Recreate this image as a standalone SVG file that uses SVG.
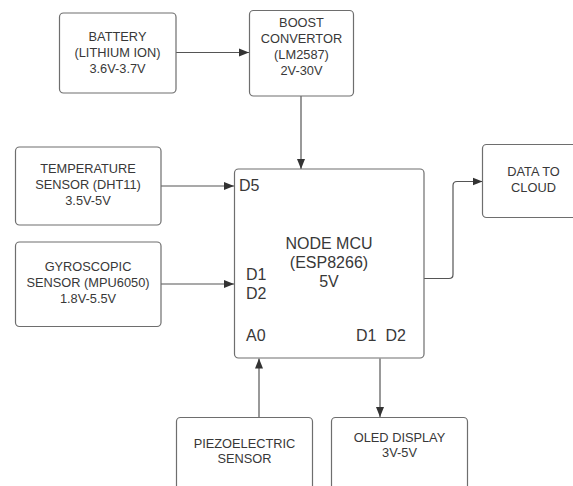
<svg xmlns="http://www.w3.org/2000/svg" width="573" height="486" viewBox="0 0 573 486">
<defs>
<style>
.box{fill:#ffffff;stroke:#6e6e6e;stroke-width:1.2}
.t{font-family:"Liberation Sans",Arial,sans-serif;font-size:12.8px;fill:#383838;text-anchor:middle}
.p{font-family:"Liberation Sans",Arial,sans-serif;font-size:16px;fill:#383838}
.c{fill:none;stroke:#555555;stroke-width:1.2}
</style>
<marker id="ah" viewBox="0 0 10 10" refX="10" refY="5" markerWidth="10" markerHeight="10" markerUnits="userSpaceOnUse" orient="auto">
<path d="M0,1 L10,5 L0,9 Z" fill="#333333"/>
</marker>
</defs>
<rect width="573" height="486" fill="#ffffff"/>
<g id="connectors">
<line class="c" x1="176" y1="52.5" x2="249" y2="52.5" marker-end="url(#ah)"/>
<line class="c" x1="301" y1="96" x2="301" y2="169" marker-end="url(#ah)"/>
<line class="c" x1="161" y1="186" x2="234" y2="186" marker-end="url(#ah)"/>
<line class="c" x1="161" y1="284" x2="234" y2="284" marker-end="url(#ah)"/>
<path class="c" d="M424,278.5 H449 Q453,278.5 453,274.5 V185.5 Q453,181.5 457,181.5 H482.5" marker-end="url(#ah)"/>
<line class="c" x1="259" y1="417" x2="259" y2="358.5" marker-end="url(#ah)"/>
<line class="c" x1="380" y1="358.5" x2="380" y2="417" marker-end="url(#ah)"/>
</g>
<g id="battery">
<rect class="box" x="59.5" y="13" width="116.5" height="80" rx="4"/>
<text class="t" x="117.5" y="40.5">BATTERY</text>
<text class="t" x="117.5" y="56.8">(LITHIUM ION)</text>
<text class="t" x="117.5" y="72.8">3.6V-3.7V</text>
</g>
<g id="boost">
<rect class="box" x="249.5" y="10.5" width="104" height="85.5" rx="4"/>
<text class="t" x="301.5" y="27.2">BOOST</text>
<text class="t" x="301.5" y="42.8">CONVERTOR</text>
<text class="t" x="301.5" y="58.5">(LM2587)</text>
<text class="t" x="301.5" y="74.5">2V-30V</text>
</g>
<g id="temperature">
<rect class="box" x="15.5" y="147" width="145.5" height="78" rx="4"/>
<text class="t" x="88" y="172.8">TEMPERATURE</text>
<text class="t" x="88" y="188.8">SENSOR (DHT11)</text>
<text class="t" x="88" y="204.8">3.5V-5V</text>
</g>
<g id="gyro">
<rect class="box" x="15.5" y="242" width="145.5" height="84.5" rx="4"/>
<text class="t" x="88" y="270.5">GYROSCOPIC</text>
<text class="t" x="88" y="286.8">SENSOR (MPU6050)</text>
<text class="t" x="88" y="302.8">1.8V-5.5V</text>
</g>
<g id="nodemcu">
<rect class="box" x="234.5" y="169" width="189.5" height="189" rx="4"/>
<text class="p" x="239" y="190.8">D5</text>
<text class="p" x="329" y="249" text-anchor="middle">NODE MCU</text>
<text class="p" x="329" y="268.4" text-anchor="middle">(ESP8266)</text>
<text class="p" x="329" y="287.4" text-anchor="middle">5V</text>
<text class="p" x="246" y="279.7">D1</text>
<text class="p" x="246" y="299">D2</text>
<text class="p" x="246" y="340.7">A0</text>
<text class="p" x="356" y="340.7">D1</text>
<text class="p" x="385.5" y="340.7">D2</text>
</g>
<g id="cloud">
<rect class="box" x="482.5" y="144.5" width="100" height="73" rx="4"/>
<text class="t" x="533.5" y="175.5">DATA TO</text>
<text class="t" x="533.5" y="191.5">CLOUD</text>
</g>
<g id="piezo">
<rect class="box" x="176.5" y="417.5" width="136" height="80" rx="4"/>
<text class="t" x="244.5" y="447.8">PIEZOELECTRIC</text>
<text class="t" x="244.5" y="462.8">SENSOR</text>
</g>
<g id="oled">
<rect class="box" x="331.5" y="417.5" width="136" height="80" rx="4"/>
<text class="t" x="399.5" y="441.8">OLED DISPLAY</text>
<text class="t" x="399.5" y="457.2">3V-5V</text>
</g>
</svg>
